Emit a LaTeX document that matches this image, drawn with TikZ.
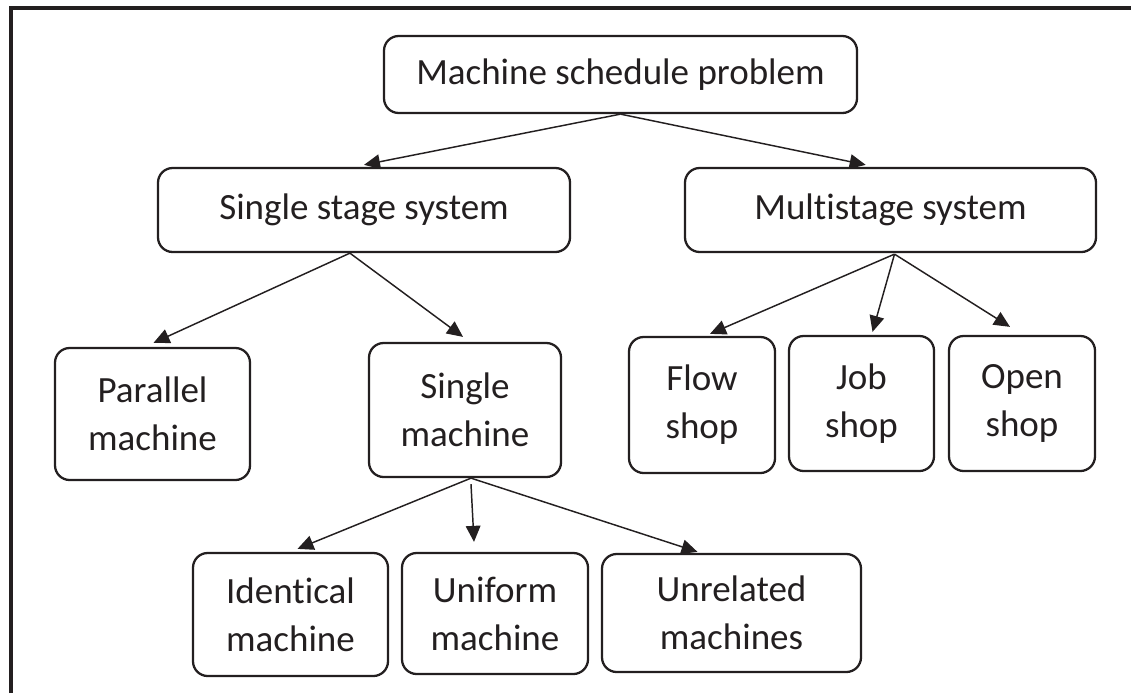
\documentclass[tikz,border=0pt]{standalone}
\usepackage{fontspec}
\setmainfont{Carlito}[Ligatures=NoCommon]
\usetikzlibrary{arrows.meta,calc}
\definecolor{ink}{HTML}{231F20}
\begin{document}
\begin{tikzpicture}[x=0.75pt,y=-0.75pt,
  box/.style 2 args={draw=ink, line width=1.7pt, rounded corners=11pt,
    minimum width=#1*0.75pt, minimum height=#2*0.75pt, inner sep=0pt,
    align=center, text=ink, font=\fontsize{27.75}{36}\selectfont},
  link/.style={draw=ink, line width=1.1pt,
    -{Triangle[length=12pt,width=11pt]}},
  frameline/.style={draw=ink, line width=2.3pt}]
\useasboundingbox (0,0) rectangle (1131,693);

% outer frame (left and top sides)
\draw[frameline] (11,693) -- (11,8) -- (1131,8);

% first level
\node[box={473}{77}] (top) at (620.5,74.5) {Machine schedule problem};

% second level
\node[box={412}{84}] (ss) at (364,210) {Single stage system};
\node[box={411}{84}] (ms) at (890.5,210) {Multistage system};

% third level
\node[box={195}{132}] (par) at (152.5,414) {Parallel\\machine};
\node[box={192}{134}] (sm) at (465,410) {Single\\machine};
\node[box={146}{136}] (flow) at (702,405) {Flow\\shop};
\node[box={145}{135}] (job) at (861.5,403.5) {Job\\shop};
\node[box={146}{135}] (open) at (1022,403.5) {Open\\shop};

% fourth level
\node[box={195}{123}] (ident) at (290.5,614.5) {Identical\\machine};
\node[box={186}{121}] (unif) at (495,613.5) {Uniform\\machine};
\node[box={259}{118}] (unrel) at (731.5,613) {Unrelated\\machines};

% branching points
\coordinate (ssout) at ($(ss.south west)!0.466!(ss.south east)$);
\coordinate (msout) at ($(ms.south)+(4,1)$);
\coordinate (smout) at ($(sm.south)+(6,0)$);

% connectors
\draw[link] (top.south) -- ($(ss.north)+(0,-2)$);
\draw[link] (top.south) -- ($(ms.north west)!0.44!(ms.north east)+(0,-2)$);

\draw[link] (ssout) -- ($(par.north)+(1,-4)$);
\draw[link] (ssout) -- ($(sm.north)+(-2,-5)$);

\draw[link] (msout) -- ($(flow.north)+(8,-2)$);
\draw[link] (msout) -- ($(job.north)+(11,-3)$);
\draw[link] (msout) -- ($(open.north)+(-12,-8)$);

\draw[link] (smout) -- ($(ident.north)+(7,-3)$);
\draw[link] ($(smout)+(0,6)$) -- ($(unif.north)+(-21,-10)$);
\draw[link] (smout) -- ($(unrel.north)+(-34,-1)$);
\end{tikzpicture}
\end{document}
